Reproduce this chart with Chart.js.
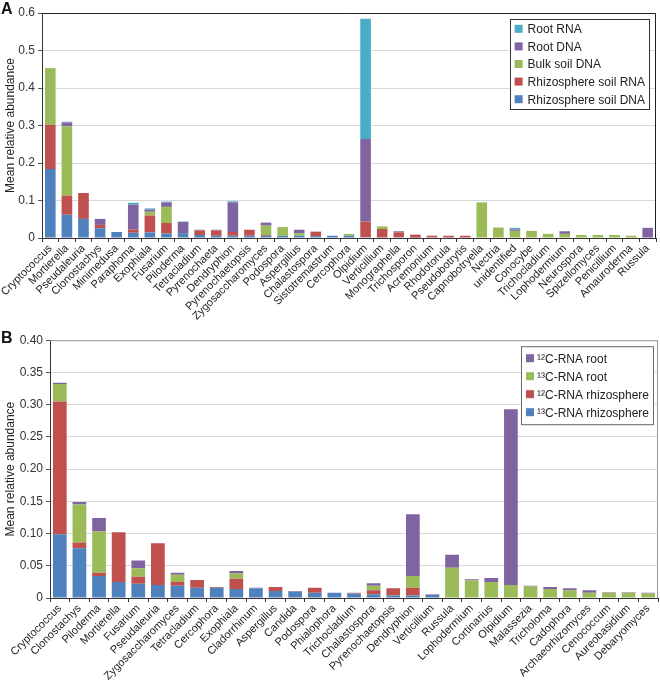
<!DOCTYPE html>
<html>
<head>
<meta charset="utf-8">
<script src="https://cdn.jsdelivr.net/npm/chart.js@4.4.0/dist/chart.umd.min.js"></script>
<style>
body { margin: 0; background: #fff; width: 660px; height: 680px; overflow: hidden; position: relative; font-family: "Liberation Sans", Arial, sans-serif; }
.panel { position: absolute; left: 0; width: 660px; }
#wrapA { top: 0; height: 330px; }
#wrapB { top: 330px; height: 350px; }
.tag { position: absolute; left: 1px; font-weight: bold; font-size: 16px; color: #111; }
</style>
</head>
<body>
<div class="panel" id="wrapA"><canvas id="chartA"></canvas></div>
<div class="panel" id="wrapB"><canvas id="chartB"></canvas></div>
<div class="tag" style="top:0px">A</div>
<div class="tag" style="top:329px">B</div>
<script>
// ---- panel A data ----
const catsA = ['Cryptococcus','Mortierella','Pseudaleuria','Clonostachys','Minimedusa','Paraphoma','Exophiala','Fusarium','Piloderma','Tetracladium','Pyrenochaeta','Dendryphion','Pyrenochaetopsis','Zygosaccharomyces','Podospora','Aspergillus','Chalastospora','Sistotremastrum','Cercophora','Olpidium','Verticillium','Monographella','Trichosporon','Acremonium','Rhodotorula','Pseudobotrytis','Capnobotryella','Nectria','unidentified','Conocybe','Trichocladium','Lophodermium','Neurospora','Spizellomyces','Penicillium','Amauroderma','Russula'];
const rhizDnaA = [0.184,0.062,0.051,0.026,0.016,0.014,0.015,0.012,0.013,0.008,0.006,0.006,0.006,0.006,0.006,0.006,0.005,0.006,0.006,0.002,0,0.002,0.001,0,0,0,0,0,0,0,0,0,0,0,0,0,0];
const rhizRnaA = [0.118,0.051,0.069,0.009,0,0.009,0.045,0.028,0,0.012,0.014,0.010,0.016,0.002,0,0,0.012,0,0,0.042,0.024,0.013,0.008,0.006,0.006,0.006,0,0,0,0,0,0,0,0,0,0,0];
const bulkDnaA = [0.151,0.185,0,0,0,0,0.010,0.043,0,0,0,0,0,0.025,0.023,0.007,0,0,0.005,0,0.007,0,0,0,0,0,0.095,0.028,0.019,0.019,0.011,0.011,0.008,0.008,0.008,0.006,0];
const rootDnaA = [0,0.010,0,0.016,0,0.066,0.006,0.012,0.030,0.002,0.002,0.079,0,0.008,0,0.009,0,0,0,0.220,0,0.003,0,0,0,0,0,0,0.004,0,0,0.007,0,0,0,0,0.027];
const rootRnaA = [0,0.002,0,0,0,0.005,0.003,0.002,0.001,0,0,0.003,0,0,0,0,0,0,0,0.321,0,0,0,0,0,0,0,0,0.004,0,0,0,0,0,0,0,0];

// ---- panel B data ----
const catsB = ['Cryptococcus','Clonostachys','Piloderma','Mortierella','Fusarium','Pseudaleuria','Zygosaccharomyces','Tetracladium','Cercophora','Exophiala','Cladorrhinum','Aspergillus','Candida','Podospora','Phialophora','Trichocladium','Chalastospora','Pyrenochaetopsis','Dendryphion','Verticillium','Russula','Lophodermium','Cortinarius','Olpidium','Malassezia','Tricholoma','Cadophora','Archaeorhizomyces','Cenococcum','Aureobasidium','Debaryomyces'];
const c13RhizB = [0.099,0.077,0.034,0.025,0.022,0.020,0.019,0.016,0.016,0.014,0.015,0.011,0.010,0.008,0.008,0.007,0.006,0.004,0.004,0.005,0,0,0,0,0,0,0,0,0,0,0];
const c12RhizB = [0.206,0.009,0.005,0.077,0.011,0.065,0.006,0.012,0.001,0.016,0,0.006,0.001,0.008,0,0.001,0.006,0.011,0.012,0.001,0,0,0,0,0,0,0,0,0,0,0];
const c13RootB = [0.027,0.059,0.064,0,0.013,0,0.011,0,0,0.008,0,0,0,0,0,0,0.007,0,0.018,0,0.047,0.027,0.025,0.020,0.018,0.014,0.012,0.008,0.008,0.008,0.007];
const c12RootB = [0.002,0.004,0.021,0,0.012,0,0.003,0,0,0.004,0.001,0,0,0,0,0,0.004,0,0.096,0,0.020,0.002,0.006,0.273,0.001,0.003,0.003,0.004,0.001,0.001,0.001];

const BLUE = '#4f81bd', RED = '#c0504d', GREEN = '#9bbb59', PURPLE = '#8064a2', CYAN = '#4bacc6';
const FONT = '"Liberation Sans", Arial, sans-serif';

// frame round the plot area + boxed legend inside it (top right)
const boxLegend = {
    id: 'boxLegend',
    afterDraw ( chart, args, o ) {
        const { ctx, chartArea: a } = chart;
        ctx.save();
        ctx.strokeStyle = o.frame;
        ctx.lineWidth = 1;
        ctx.beginPath();
        ctx.moveTo( a.left, a.top + 0.5 );
        ctx.lineTo( a.right - 0.5, a.top + 0.5 );
        ctx.lineTo( a.right - 0.5, a.bottom );
        ctx.stroke();

        const items = chart.data.datasets.slice().reverse();
        ctx.font = '12px ' + FONT;
        const maxW = Math.max( ...items.map( d => ctx.measureText( d.label ).width ) );
        const w = o.padL + o.sw + o.gap + maxW + o.padR;
        const h = items.length * o.row + o.padV * 2;
        const x = a.right - o.right - w, y = a.top + o.top;
        ctx.fillStyle = '#fff';
        ctx.fillRect( x, y, w, h );
        ctx.strokeStyle = o.border;
        ctx.strokeRect( Math.round( x ) + 0.5, y + 0.5, Math.round( w ), h );
        ctx.textBaseline = 'middle';
        items.forEach( ( d, i ) => {
            const cy = y + o.padV + o.row * i + o.row / 2;
            ctx.fillStyle = d.backgroundColor;
            ctx.fillRect( x + o.padL, cy - o.sw / 2, o.sw, o.sw );
            ctx.fillStyle = '#222';
            ctx.fillText( d.label, x + o.padL + o.sw + o.gap, cy + 1 );
        } );
        ctx.restore();
    }
};
Chart.register( boxLegend );

function makeChart ( id, cats, sets, cfg ) {
    return new Chart( document.getElementById( id ), {
        type: 'bar',
        data: {
            labels: cats,
            datasets: sets.map( s => ( {
                label: s.label, data: s.data, backgroundColor: s.color,
                borderWidth: 0, categoryPercentage: 1, barPercentage: cfg.barPct
            } ) )
        },
        options: {
            responsive: true,
            maintainAspectRatio: false,
            animation: false,
            layout: { padding: { left: 0, top: cfg.top, right: cfg.right, bottom: 0 } },
            scales: {
                x: {
                    stacked: true,
                    afterFit: ( s ) => { s.height = cfg.xH; },
                    grid: { offset: true, drawOnChartArea: false, tickLength: 4, color: '#333' },
                    border: { color: '#333' },
                    ticks: {
                        autoSkip: false, minRotation: 45, maxRotation: 45, padding: 0,
                        color: '#222', font: { family: FONT, size: 11 }
                    }
                },
                y: {
                    stacked: true,
                    min: 0, max: cfg.max,
                    afterFit: ( s ) => { s.width = cfg.yW; },
                    grid: { color: '#d9d9d9', tickLength: 4, tickColor: '#555' },
                    border: { color: '#333' },
                    ticks: {
                        stepSize: cfg.step, padding: 3, color: '#333',
                        font: { family: FONT, size: 12 },
                        callback: ( v ) => v === 0 ? '0' : v.toFixed( cfg.dec )
                    },
                    title: {
                        display: true, text: 'Mean relative abundance', color: '#222',
                        font: { family: FONT, size: 12 }, padding: { top: 3, bottom: 2 }
                    }
                }
            },
            plugins: {
                legend: { display: false },
                tooltip: { enabled: false },
                boxLegend: cfg.legend
            }
        }
    } );
}

makeChart( 'chartA', catsA, [
    { label: 'Rhizosphere soil DNA', data: rhizDnaA, color: BLUE },
    { label: 'Rhizosphere soil RNA', data: rhizRnaA, color: RED },
    { label: 'Bulk soil DNA', data: bulkDnaA, color: GREEN },
    { label: 'Root DNA', data: rootDnaA, color: PURPLE },
    { label: 'Root RNA', data: rootRnaA, color: CYAN }
], {
    barPct: 0.64, top: 13, right: 4, xH: 92, yW: 42, max: 0.6, step: 0.1, dec: 1,
    legend: { frame: '#222', border: '#333', right: 7, top: 6, row: 17.6, padV: 1, padL: 5, sw: 8, gap: 5, padR: 4 }
} );

makeChart( 'chartB', catsB, [
    { label: '\u00B9\u00B3C-RNA rhizosphere', data: c13RhizB, color: BLUE },
    { label: '\u00B9\u00B2C-RNA rhizosphere', data: c12RhizB, color: RED },
    { label: '\u00B9\u00B3C-RNA root', data: c13RootB, color: GREEN },
    { label: '\u00B9\u00B2C-RNA root', data: c12RootB, color: PURPLE }
], {
    barPct: 0.7, top: 7, right: 2, xH: 82, yW: 50, max: 0.4, step: 0.05, dec: 2,
    legend: { frame: '#999', border: '#666', right: 5, top: 6, row: 18, padV: 3, padL: 5, sw: 8, gap: 3, padR: 4 }
} );
</script>
</body>
</html>
